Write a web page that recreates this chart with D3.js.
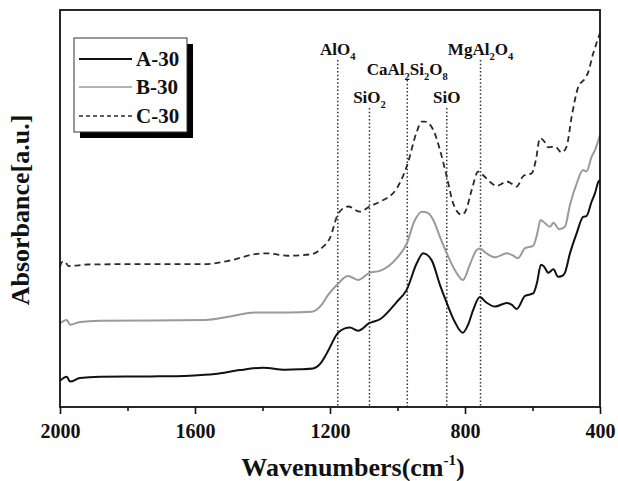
<!DOCTYPE html>
<html>
<head>
<meta charset="utf-8">
<script src="https://cdn.jsdelivr.net/npm/d3@7"></script>
<style>
body { margin: 0; background: #fff; }
svg { display: block; }
text { font-family: "Liberation Serif", "Times New Roman", serif; font-weight: bold; fill: #111; }
</style>
</head>
<body>
<svg id="chart" width="618" height="481"></svg>
<script>
// spectra (arbitrary absorbance units)
const wnA = [2000,1980,1970,1941,1881,1733,1615,1541,1467,1398,1333,1289,1250,1230,1209,1177,1156,1141,1117,1084,1052,1002,973,943,924,899,874,854,830,807,791,776,756,738,711,676,661,647,622,598,587,575,566,553,538,524,513,504,489,469,450,440,425,415,405,400];
const absA = [6.6,7.6,6.4,7.3,7.6,7.7,7.9,8.3,9.3,9.9,9.4,9.5,9.7,10.8,13.6,18.6,19.8,20.0,19.2,21.1,22.1,26.5,29.5,36.2,38.7,37.0,30.7,26.2,21.4,18.7,20.7,24.4,27.7,26.4,25.3,26.2,25.7,24.7,28.0,28.6,31.2,35.8,35.4,33.8,34.7,32.8,33.0,33.8,38.7,43.8,47.9,48.1,51.7,53.8,56.7,57.2];

const wnB = [2000,1980,1970,1941,1881,1733,1570,1496,1422,1324,1254,1225,1206,1177,1147,1117,1083,1052,1002,972,951,928,910,894,874,854,830,806,785,766,756,738,711,676,661,643,622,598,587,576,563,548,538,521,504,489,469,450,440,425,415,400];
const absB = [21.1,21.9,20.7,21.4,21.7,21.8,21.9,22.8,23.8,23.8,24.0,25.7,28.2,31.0,33.0,32.0,33.8,34.3,37.5,41.3,46.6,49.2,48.9,47.1,42.8,38.7,34.5,32.0,36.0,39.5,39.9,38.8,37.7,38.7,38.3,37.5,40.0,40.6,43.3,47.1,46.3,45.4,46.4,44.8,45.4,50.9,56.3,59.7,59.3,63.0,64.7,68.5];

const wnC = [2000,1994,1985,1975,1917,1733,1570,1496,1422,1384,1324,1254,1225,1200,1175,1146,1111,1081,1052,1002,971,943,928,919,894,874,854,835,810,797,780,761,744,726,706,676,661,647,627,602,590,578,566,553,533,514,499,484,464,444,436,420,402,400];
const absC = [35.3,36.5,36.6,35.5,35.9,36.0,36.0,36.9,38.5,38.7,38.1,38.5,40.0,42.6,48.8,50.5,49.2,50.6,51.7,55.1,61.0,69.3,71.9,71.9,69.8,64.7,58.0,51.3,48.4,49.6,54.7,59.3,58.2,56.7,55.7,56.8,56.2,55.5,58.2,58.9,62.2,67.7,67.0,65.4,65.6,64.1,65.6,73.1,80.7,82.8,84.1,89.1,93.7,94.2];

const seriesNames = ["A-30", "B-30", "C-30"];

const peakLabels = ["AlO4", "SiO2", "CaAl2Si2O8", "SiO", "MgAl2O4"];
const peakWn = [1177, 1083, 971, 854, 754];
const peakLevel = [0, 2, 1, 2, 0];

const xTicks = [2000, 1600, 1200, 800, 400];
const xMinorTicks = [1800, 1400, 1000, 600];

const svg = d3.select("#chart");
const plotLeft = 60, plotRight = 600, plotTop = 10, plotBottom = 407;

const x = d3.scaleLinear().domain([2000, 400]).range([plotLeft, plotRight]);
const y = d3.scaleLinear().domain([0, 100]).range([plotBottom, plotTop]);

const line = d3.line()
  .x(d => x(d[0]))
  .y(d => y(d[1]))
  .curve(d3.curveMonotoneX);

// writes a formula with digits as subscripts
function chem(sel, label, fs) {
  const parts = label.match(/[A-Za-z]+|\d+/g);
  let down = false;
  parts.forEach(p => {
    const isNum = /\d/.test(p);
    const t = sel.append("tspan").text(p);
    if (isNum) {
      t.attr("font-size", fs * 0.62).attr("dy", down ? 0 : 5);
      down = true;
    } else {
      if (down) t.attr("dy", -5);
      down = false;
    }
  });
}

// peak markers
const levelBase = [55, 75, 103];
peakWn.forEach((wn, i) => {
  const base = levelBase[peakLevel[i]];
  svg.append("line")
    .attr("x1", x(wn)).attr("x2", x(wn))
    .attr("y1", base + 5).attr("y2", plotBottom)
    .attr("stroke", "#333")
    .attr("stroke-width", 1.5)
    .attr("stroke-dasharray", "1.5,2.2");
  const t = svg.append("text")
    .attr("x", x(wn))
    .attr("y", base)
    .attr("text-anchor", "middle")
    .style("font-size", "17px");
  chem(t, peakLabels[i], 17);
});

// curves
const series = [
  { data: d3.zip(wnA, absA), color: "#111", width: 2, dash: null },
  { data: d3.zip(wnB, absB), color: "#9a9a9a", width: 2, dash: null },
  { data: d3.zip(wnC, absC), color: "#2a2a2a", width: 1.8, dash: "6,4" }
];

series.forEach(s => {
  svg.append("path")
    .datum(s.data)
    .attr("d", line)
    .attr("fill", "none")
    .attr("stroke", s.color)
    .attr("stroke-width", s.width)
    .attr("stroke-dasharray", s.dash);
});

// frame
svg.append("rect")
  .attr("x", plotLeft).attr("y", plotTop)
  .attr("width", plotRight - plotLeft).attr("height", plotBottom - plotTop)
  .attr("fill", "none")
  .attr("stroke", "#111")
  .attr("stroke-width", 1.8);

// x axis
const xAxis = d3.axisBottom(x).tickValues(xTicks).tickSize(7).tickPadding(10).tickFormat(d3.format("d"));
const gx = svg.append("g")
  .attr("transform", `translate(0,${plotBottom})`)
  .call(xAxis);
gx.select(".domain").remove();
gx.selectAll(".tick line").attr("stroke", "#111").attr("stroke-width", 1.6);
gx.selectAll(".tick text")
  .style("font-family", '"Liberation Serif", serif')
  .style("font-weight", "bold")
  .style("font-size", "20px")
  .attr("fill", "#111");

svg.append("g")
  .attr("transform", `translate(0,${plotBottom})`)
  .call(d3.axisBottom(x).tickValues(xMinorTicks).tickSize(4).tickFormat(""))
  .call(g => g.select(".domain").remove())
  .selectAll(".tick line").attr("stroke", "#111").attr("stroke-width", 1.6);

// axis titles
const xt = svg.append("text")
  .attr("x", 353).attr("y", 476)
  .attr("text-anchor", "middle")
  .style("font-size", "26px");
xt.append("tspan").text("Wavenumbers(cm");
xt.append("tspan").text("-1").attr("font-size", 15).attr("dy", -11);
xt.append("tspan").text(")").attr("dy", 11);

svg.append("text")
  .attr("transform", "translate(29,210) rotate(-90)")
  .attr("text-anchor", "middle")
  .style("font-size", "26px")
  .text("Absorbance[a.u.]");

// legend
const lg = svg.append("g");
lg.append("rect")
  .attr("x", 80).attr("y", 44).attr("width", 113).attr("height", 94)
  .attr("fill", "#000");
lg.append("rect")
  .attr("x", 74).attr("y", 38).attr("width", 113).attr("height", 94)
  .attr("fill", "#fff").attr("stroke", "#333").attr("stroke-width", 1);

const legendY = [59, 87, 116];
seriesNames.forEach((name, i) => {
  const s = series[i];
  lg.append("line")
    .attr("x1", 79).attr("x2", 132)
    .attr("y1", legendY[i]).attr("y2", legendY[i])
    .attr("stroke", s.color)
    .attr("stroke-width", i === 0 ? 2 : 1.5)
    .attr("stroke-dasharray", s.dash ? "4,3" : null);
  lg.append("text")
    .attr("x", 136).attr("y", legendY[i] + 7)
    .style("font-size", "21px")
    .text(name);
});
</script>
</body>
</html>
